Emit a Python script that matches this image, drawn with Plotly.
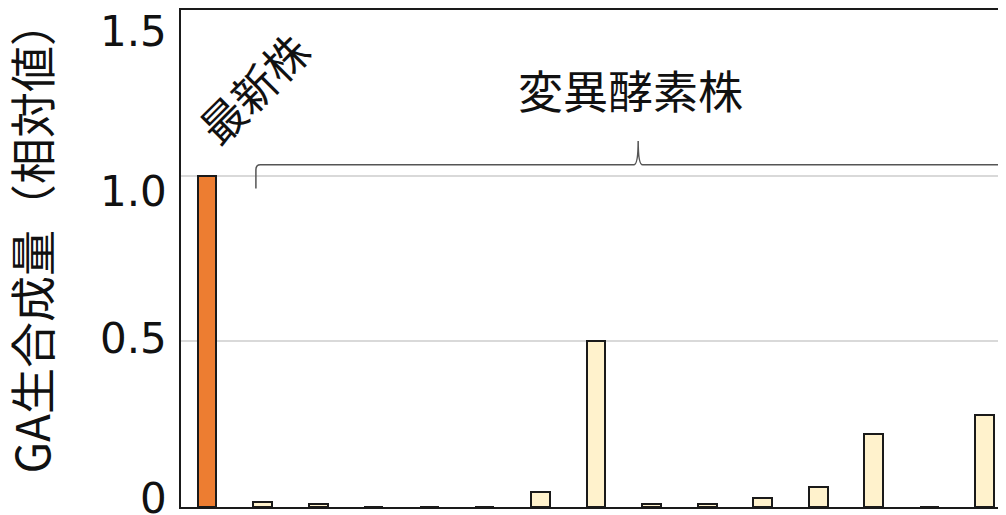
import plotly.graph_objects as go

# relative GA production, slot 0 = latest strain, the rest = enzyme variants
slots = list(range(15))
values = [1.0, 0.015, 0.01, 0, 0, 0, 0.045, 0.5, 0.01, 0.01, 0.028, 0.06, 0.22, 0, 0.277]
colors = ["#ED7D31"] + ["#FFF2CC"] * 14
tick_vals = [0, 0.5, 1.0, 1.5]
tick_text = ["0", "0.5", "1.0", "1.5"]

# the original's labels don't sit exactly on their gridlines
label_shift = [9, 3, -16, -21]

FONT = "Noto Sans CJK JP, Noto Sans, sans-serif"
NUM_FONT = "DejaVu Sans, sans-serif"

fig = go.Figure()
fig.add_trace(go.Bar(
    x=slots, y=values, width=0.34,
    marker=dict(color=colors, line=dict(color="#1a1a1a", width=2)),
    showlegend=False,
))

# brace over the variant strains
xl, xr, xc = 0.88, 14.33, 7.76
yh, ye, yp = 1.033, 0.961, 1.105
dx, dy = 0.08, 0.015
path = (f"M {xl},{ye} L {xl},{yh-dy} Q {xl},{yh} {xl+dx},{yh} "
        f"L {xc-dx},{yh} Q {xc},{yh} {xc},{yp} Q {xc},{yh} {xc+dx},{yh} "
        f"L {xr-dx},{yh} Q {xr},{yh} {xr},{yh-dy} L {xr},{ye}")
fig.add_shape(type="path", path=path, xref="x", yref="y",
              line=dict(color="#555555", width=1.5))

fig.add_annotation(x=0.82, y=1.265, xref="x", yref="y", text="最新株",
                   showarrow=False, textangle=-45,
                   font=dict(family=FONT, size=44, color="#111111"))
fig.add_annotation(x=7.62, y=1.26, xref="x", yref="y", text="変異酵素株",
                   showarrow=False,
                   font=dict(family=FONT, size=45, color="#111111"))

for v, t, s in zip(tick_vals, tick_text, label_shift):
    fig.add_annotation(x=0, y=v, xref="paper", yref="y", text=t,
                       showarrow=False, xanchor="right", xshift=-12, yshift=s,
                       font=dict(family=NUM_FONT, size=42, color="#111111"))

# y-axis title
fig.add_annotation(x=0, y=0.5, xref="paper", yref="paper", text="GA生合成量（相対値）",
                   showarrow=False, textangle=-90, xanchor="center", yanchor="middle",
                   xshift=-152, yshift=21,
                   font=dict(family=FONT, size=46, color="#111111"))

fig.update_layout(
    width=998, height=507,
    margin=dict(l=173, r=0, t=0, b=8),
    plot_bgcolor="white", paper_bgcolor="white",
    font=dict(family=FONT, color="#111111"),
    bargap=0,
)
fig.update_xaxes(range=[-0.468, 14.38], showticklabels=False, showgrid=False,
                 zeroline=False, showline=True, mirror=True,
                 linecolor="#1a1a1a", linewidth=2, ticks="")
fig.update_yaxes(range=[0, 1.5], tickvals=tick_vals, showticklabels=False,
                 ticks="", automargin=False,
                 showgrid=True, gridcolor="#D9D9D9", gridwidth=1.5,
                 zeroline=False, showline=True, linecolor="#1a1a1a", linewidth=2)

fig.write_html("out.html")
